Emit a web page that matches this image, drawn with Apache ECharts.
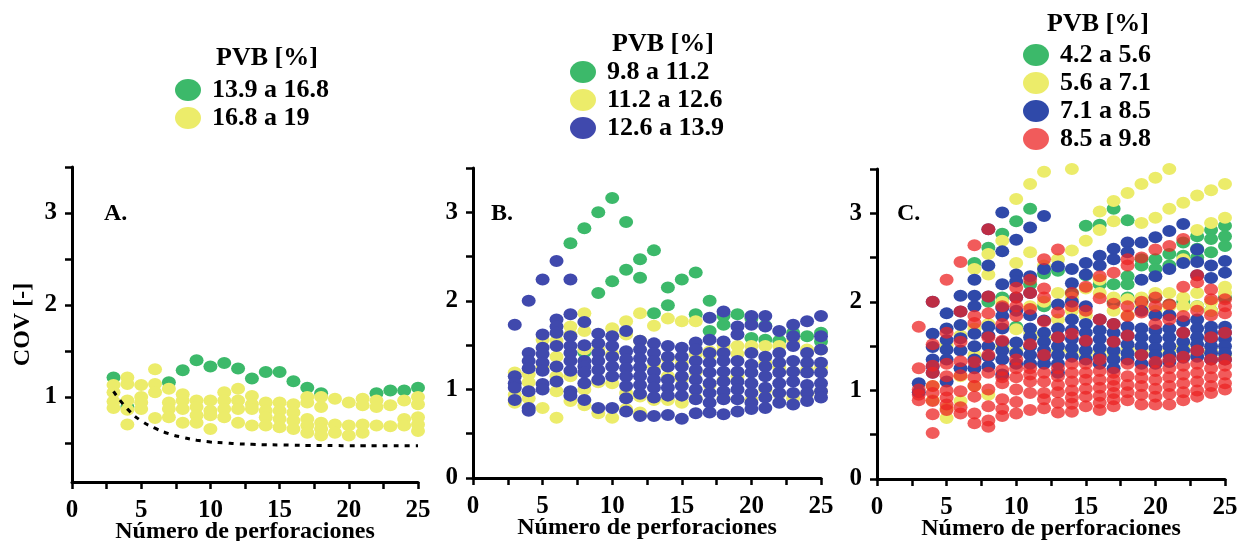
<!DOCTYPE html>
<html>
<head>
<meta charset="utf-8">
<script src="https://cdn.jsdelivr.net/npm/echarts@6/dist/echarts.min.js"></script>
<style>html,body{margin:0;padding:0;background:#fff;}#c{width:1239px;height:541px;}</style>
</head>
<body>
<div id="c"></div>
<script>
// x positions (number of drillings)
const xs = [3,4,5,6,7,8,9,10,11,12,13,14,15,16,17,18,19,20,21,22,23,24,25];
const xTicks = [0,2.5,5,7.5,10,12.5,15,17.5,20,22.5,25];
const xLabels = [0,5,10,15,20,25];
const yTicksA = [0.5,1,1.5,2,2.5,3,3.5];
const yTicks = [0,0.5,1,1.5,2,2.5,3,3.5];
const yLabelsA = [1,2,3];
const yLabels = [0,1,2,3];

// Panel A
const aGreen = [[3,1.21],[4,0.89],[7,1.16],[8,1.29],[9,1.40],[10,1.33],[11,1.37],[12,1.31],[13,1.20],[14,1.27],[15,1.27],[16,1.17],[17,1.10],[18,1.04],[22,1.04],[23,1.07],[24,1.07],[25,1.10]];
const aYellow = [
 [1.13,1.05,0.95,0.88],[1.21,1.14,0.96,0.86,0.70],[1.13,1.0,0.94,0.87],[1.30,1.14,1.05,0.77],
 [1.09,0.94,0.87,0.78],[1.03,0.96,0.87,0.72],[0.96,0.89,0.80,0.72],[0.96,0.85,0.80,0.65],
 [1.05,0.96,0.87,0.78],[1.09,0.96,0.87,0.72],[1.01,0.92,0.87,0.69],[0.94,0.85,0.78,0.69],
 [0.94,0.85,0.76,0.67],[0.92,0.83,0.74,0.65],[1.0,0.94,0.76,0.69,0.61],[1.0,0.89,0.72,0.65,0.58],
 [0.98,0.70,0.61],[0.94,0.69,0.58],[0.98,0.91,0.70,0.61],[0.96,0.89,0.69],[0.91,0.68],
 [0.96,0.76,0.69],[1.0,0.92,0.78,0.70,0.63]];
const aTrend = [1.06,0.87,0.74,0.66,0.60,0.56,0.53,0.51,0.50,0.49,0.485,0.48,0.478,0.475,0.473,0.472,0.471,0.47,0.47,0.47,0.47,0.47,0.47];

// Panel B
const bGreen = [[7,2.65],[8,2.82],[9,3.0],[10,3.16],[11,2.89],[9,2.09],[10,2.22],[11,2.35],[12,2.47],[13,2.57],[12,2.26],[14,2.15],[15,2.24],[16,2.32],[14,1.95],[13,1.86],[16,1.85],[17,2.0],[17,1.66],[18,1.83],[18,1.73],[19,1.85],[20,1.80],[20,1.58],[21,1.56],[21,1.72],[22,1.55],[23,1.64],[24,1.60],[25,1.64],[25,1.54],[8,1.42]];
const bYellow = [
 [1.19,0.94,0.85],[1.17,1.08,0.90],[1.56,1.25,0.79],[1.55,1.37,1.15,0.98,0.68],[1.71,1.62,1.15,0.87],
 [1.86,1.66,1.45,1.0,0.82],[1.45,1.08,0.73],[1.69,1.40,1.07,0.68],[1.77,1.62,0.96,0.78],[1.86,1.55,0.92,0.74],
 [1.72,1.26,0.88],[1.80,1.35,1.15,0.88],[1.77,1.30,1.12,0.85],[1.77,1.40,1.20,0.90],[1.43,1.38,1.05],
 [1.43,1.50,1.10,0.90],[1.49,1.40,1.15],[1.49,1.42,0.88],[1.49,1.30,1.0],[1.49,1.25,0.95],
 [1.55,1.20,0.90],[1.45,1.22,0.95],[1.45,1.25,0.98]];
const bBlue = [
 [1.73,1.15,1.07,1.02,0.88],[2.0,1.41,1.32,1.24,0.98,0.79,0.76],[2.24,1.62,1.47,1.40,1.30,1.21,1.06,1.0],
 [2.45,1.79,1.71,1.64,1.49,1.26,1.09],[2.24,1.85,1.60,1.49,1.41,1.32,1.21,0.98,0.93],
 [1.76,1.50,1.32,1.26,1.19,1.07,0.88],[1.63,1.52,1.41,1.32,1.22,1.11,0.79],[1.60,1.49,1.37,1.26,1.15,0.79],
 [1.66,1.43,1.34,1.24,1.15,1.04,0.90,0.75],[1.55,1.45,1.35,1.25,1.15,1.05,0.95,0.70],
 [1.52,1.41,1.32,1.20,1.11,1.02,0.91,0.70],[1.49,1.37,1.26,1.11,1.02,0.93,0.71],
 [1.47,1.37,1.26,1.15,1.04,0.93,0.67],[1.53,1.45,1.32,1.22,1.11,1.0,0.89,0.73],
 [1.81,1.56,1.41,1.30,1.19,1.07,0.96,0.85,0.74],[1.88,1.54,1.41,1.32,1.20,1.09,0.98,0.89,0.72],
 [1.71,1.62,1.32,1.20,1.09,1.0,0.89,0.75],[1.83,1.73,1.41,1.28,1.19,1.07,0.96,0.85,0.78],
 [1.83,1.71,1.37,1.26,1.15,1.02,0.91,0.79],[1.66,1.41,1.30,1.19,1.07,0.96,0.85],
 [1.73,1.60,1.49,1.32,1.20,1.09,0.96,0.83],[1.77,1.41,1.30,1.19,1.05,0.96,0.87],
 [1.83,1.60,1.45,1.30,1.19,1.07,0.98,0.91]];

// Panel C
const cGreen = [[],[],[],[],[2.44],[2.61,2.0],[2.77,2.05],[2.91,1.72],[3.05,2.2],[2.32,1.95],[2.35],[2.1],
 [2.86,2.3],[2.87,2.2],[3.05,2.2,2.0],[2.92,2.29,2.20,2.05],[2.48,2.41,2.0],[2.48,2.37,2.05],
 [2.54,2.41,1.97],[2.67,2.52,2.0],[2.74,2.6,2.5,1.95],[2.81,2.71,2.56,1.9],[2.86,2.74,2.63,2.05]];
const cYellow = [[],[0.89,1.05],[1.51,0.69,0.80],[1.16,1.62,0.88],[2.37,1.05,1.40,1.70],[2.54,2.31,1.75,0.95],
 [2.69,2.0,1.5],[3.16,2.44,1.69,1.45],[3.33,2.56,1.95,1.65],[3.47,2.41,2.00,1.60],[2.48,2.10,1.80,1.45],
 [3.50,2.58,2.05,1.90,1.45],[2.69,2.15,1.85,1.40],[3.02,2.81,2.25,2.10,1.45],[3.14,2.91,2.05,1.90,1.40],
 [3.23,2.03,1.85,1.48],[3.33,2.89,2.05,1.95,1.45],[3.40,2.95,2.10,1.90,1.42],[3.50,3.05,2.10,1.95,1.45],
 [3.12,2.48,2.05,1.95,1.50],[3.20,2.81,2.10,1.95,1.40],[3.26,2.89,2.00,1.90,1.45],[3.33,2.95,2.17,2.10,1.40]];
const cBlue = [[1.08,0.98],[2.0,1.64,1.49,1.35,1.27,1.20],[1.87,1.70,1.57,1.46,1.35,1.10],[2.07,1.89,1.74,1.59,1.45,1.25],
 [2.25,2.07,1.95,1.64,1.50,1.35,1.25],[2.82,2.41,2.06,1.72,1.62,1.50,1.38,1.27],
 [3.01,2.57,2.20,1.93,1.84,1.70,1.55,1.45,1.35,1.18],[2.70,2.31,2.23,2.05,1.90,1.54,1.42,1.30],
 [2.84,2.29,2.10,1.85,1.70,1.60,1.50,1.40,1.30],[2.97,2.37,1.79,1.65,1.55,1.45,1.38,1.30],
 [2.40,1.97,1.70,1.60,1.50,1.40,1.30,1.20],[2.37,2.21,2.00,1.80,1.68,1.58,1.48,1.38],
 [2.44,2.31,1.95,1.75,1.65,1.55,1.45,1.35],[2.52,2.41,1.80,1.68,1.58,1.48,1.38,1.30],
 [2.60,2.48,1.75,1.65,1.55,1.45,1.35,1.25],[2.67,2.56,1.72,1.62,1.52,1.42,1.35],
 [2.67,2.25,1.90,1.70,1.60,1.50,1.40,1.30],[2.73,2.29,1.85,1.68,1.58,1.48,1.40,1.30],
 [2.80,2.37,1.85,1.70,1.60,1.50,1.40,1.32],[2.88,2.44,1.78,1.65,1.55,1.45,1.37],
 [2.59,2.45,2.30,1.80,1.70,1.60,1.52,1.45,1.38],[2.41,2.27,1.72,1.65,1.58,1.50,1.42,1.35],
 [2.46,2.33,1.72,1.65,1.58,1.50,1.42,1.35]];
const cRed = [[1.72,1.25,1.01,0.95,0.89],[2.0,1.52,1.28,1.20,1.05,0.97,0.88,0.73,0.52],[2.25,1.65,1.30,1.16,1.0,0.92,0.84,0.78],
 [2.45,1.89,1.55,1.33,1.17,0.99,0.81,0.74],[2.64,1.84,1.76,1.32,1.15,1.05,0.93,0.74,0.63],
 [2.82,2.06,1.87,1.60,1.40,1.20,1.01,0.82,0.66,0.59],[1.95,1.75,1.56,1.23,1.15,1.08,0.90,0.79,0.71],
 [2.16,2.05,1.95,1.84,1.35,1.25,1.15,1.01,0.87,0.74],[2.25,2.1,1.92,1.52,1.25,1.18,1.10,0.97,0.78],
 [2.48,2.15,2.05,1.78,1.40,1.20,1.10,0.97,0.90,0.80],[2.59,1.88,1.60,1.25,1.16,1.06,0.98,0.86,0.75],
 [2.10,1.95,1.64,1.30,1.20,1.10,1.00,0.92,0.85,0.76],[2.17,1.90,1.56,1.30,1.20,1.12,1.02,0.93,0.82],
 [2.29,2.04,1.80,1.35,1.22,1.12,1.03,0.94,0.86,0.78],[2.33,1.98,1.75,1.55,1.20,1.12,1.05,0.97,0.90,0.82],
 [2.48,2.41,1.95,1.84,1.62,1.30,1.16,1.06,0.98,0.89],[2.50,2.0,1.88,1.40,1.23,1.14,1.05,0.95,0.84],
 [2.59,2.05,1.95,1.75,1.32,1.22,1.12,1.02,0.93,0.84],[2.63,1.97,1.80,1.35,1.25,1.15,1.05,0.96,0.84],
 [2.71,2.17,1.84,1.65,1.38,1.28,1.18,1.08,0.98,0.89],[2.30,2.22,1.90,1.45,1.30,1.20,1.10,1.0,0.93],
 [2.14,2.03,1.85,1.60,1.35,1.25,1.15,1.05,0.97],[2.03,1.95,1.87,1.65,1.35,1.28,1.18,1.08,1.01]];

// Legend names
const namesA = ['13.9 a 16.8','16.8 a 19'];
const namesB = ['9.8 a 11.2','11.2 a 12.6','12.6 a 13.9'];
const namesC = ['4.2 a 5.6','5.6 a 7.1','7.1 a 8.5','8.5 a 9.8'];

function expand(cols){const out=[];cols.forEach((vals,i)=>vals.forEach(v=>out.push([xs[i],v])));return out;}

const FONT = 'Liberation Serif';
const GREEN='#3cb96a', YELLOW='#ecec6a', BLUEB='#4049ad', BLUEC='#2f49a9', RED='#ec2424';
const DOT = 'path://M50,0A50,50,0,1,1,50,100A50,50,0,1,1,50,0Z';
const SZ = [14,12];
const txt = {fontFamily:FONT,fontWeight:'bold',fontSize:24,color:'#000'};
const tickTxt = {fontFamily:FONT,fontWeight:'bold',fontSize:25,color:'#000'};
const legTxt = {fontFamily:FONT,fontWeight:'bold',fontSize:26,color:'#000'};

function xAxisOf(i){return {type:'value',gridIndex:i,min:0,max:25,
  name:'Número de perforaciones',nameLocation:'middle',nameGap:38,nameMoveOverlap:false,nameTextStyle:txt,
  axisLine:{show:true,onZero:false,lineStyle:{color:'#000',width:3}},
  axisTick:{show:true,length:7,lineStyle:{color:'#000',width:2.5},customValues:xTicks},
  axisLabel:Object.assign({customValues:xLabels,margin:16},tickTxt),splitLine:{show:false}};}
function yAxisOf(i,min,ticks,labels){const o={type:'value',gridIndex:i,min:min,max:3.5,
  axisLine:{show:true,onZero:false,lineStyle:{color:'#000',width:3}},
  axisTick:{show:true,length:7,lineStyle:{color:'#000',width:2.5},customValues:ticks},
  axisLabel:Object.assign({customValues:labels,margin:15},tickTxt),splitLine:{show:false}};return o;}

const yA = yAxisOf(0,0.075,yTicksA,yLabelsA);
yA.name='COV [-]';yA.nameLocation='middle';yA.nameGap=37;yA.nameMoveOverlap=false;yA.nameTextStyle=txt;

function sc(name,data,xi,color,opacity){return {type:'scatter',name:name,xAxisIndex:xi,yAxisIndex:xi,data:data,
  symbol:DOT,symbolSize:SZ,symbolKeepAspect:false,itemStyle:{color:color,opacity:opacity||1},emphasis:{disabled:true},silent:true};}

const legendBase = {orient:'vertical',itemWidth:26,itemHeight:22,itemGap:2,icon:DOT,symbolKeepAspect:false,selectedMode:false,
  textStyle:Object.assign({padding:[0,0,0,6]},legTxt)};

const gridBase = {outerBoundsMode:'none',containLabel:false};

const option = {
  animation:false,
  title:[
    {text:'PVB [%]',left:211,top:40,textStyle:legTxt},
    {text:'PVB [%]',left:607,top:26,textStyle:legTxt},
    {text:'PVB [%]',left:1042,top:6,textStyle:legTxt},
    {text:'A.',left:99,top:197,textStyle:txt},
    {text:'B.',left:486,top:197,textStyle:txt},
    {text:'C.',left:892,top:197,textStyle:txt}
  ],
  legend:[
    Object.assign({},legendBase,{data:namesA,left:170,top:72}),
    Object.assign({},legendBase,{data:namesB,left:565,top:54}),
    Object.assign({},legendBase,{data:namesC,left:1018,top:37})
  ],
  grid:[
    Object.assign({left:72,top:167,width:346,height:315},gridBase),
    Object.assign({left:473,top:168,width:348,height:310},gridBase),
    Object.assign({left:877,top:169,width:348,height:310},gridBase)
  ],
  xAxis:[xAxisOf(0),xAxisOf(1),xAxisOf(2)],
  yAxis:[yA,yAxisOf(1,0,yTicks,yLabels),yAxisOf(2,0,yTicks,yLabels)],
  series:[
    sc(namesA[0],aGreen,0,GREEN),
    sc(namesA[1],expand(aYellow),0,YELLOW),
    {type:'line',xAxisIndex:0,yAxisIndex:0,data:xs.map((x,i)=>[x,aTrend[i]]),symbol:'none',smooth:true,
     lineStyle:{color:'#000',width:3,type:[5,6]},silent:true,z:5},
    sc(namesB[0],bGreen,1,GREEN),
    sc(namesB[1],expand(bYellow),1,YELLOW),
    sc(namesB[2],expand(bBlue),1,BLUEB),
    sc(namesC[0],expand(cGreen),2,GREEN),
    sc(namesC[1],expand(cYellow),2,YELLOW),
    sc(namesC[2],expand(cBlue),2,BLUEC),
    sc(namesC[3],expand(cRed),2,RED,0.75)
  ]
};
const chart = echarts.init(document.getElementById('c'),null,{renderer:'canvas'});
chart.setOption(option);
</script>
</body>
</html>
